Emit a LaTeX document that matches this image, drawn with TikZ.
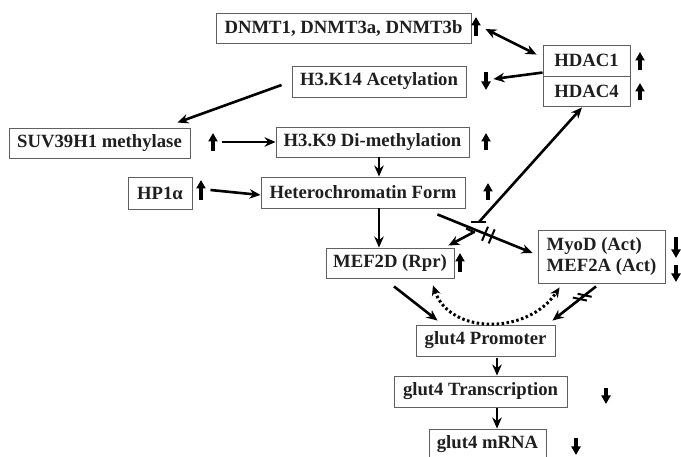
\documentclass[tikz,border=0pt]{standalone}
\usepackage{fontspec}
\setmainfont{Liberation Serif}
\usetikzlibrary{arrows.meta}
\begin{document}
\begin{tikzpicture}[x=1pt,y=-1pt,
  box/.style={draw=gray!75!black, line width=0.9pt, inner sep=0pt, font=\fontsize{18.7}{21}\selectfont\bfseries, text=black!88},
  conn/.style={line width=2.6pt, -{Stealth[length=11pt,width=9.5pt]}},
  dconn/.style={line width=2.6pt, {Stealth[length=11pt,width=9.5pt]}-{Stealth[length=11pt,width=9.5pt]}},
  dotconn/.style={line width=3pt, dash pattern=on 2.5pt off 2.5pt, {Stealth[length=10pt,width=9pt]}-{Stealth[length=10pt,width=9pt]}},
  slash/.style={line width=2pt},
  ind/.style={line width=3.2pt, -{Triangle[length=8.5pt,width=9pt]}}]
\useasboundingbox (0,0) rectangle (681,457);
\fill[white] (0,0) rectangle (681,457);
\clip (0,0) rectangle (681,457);

% boxes
\node[box, minimum width=255pt, minimum height=30pt] (dnmt) at (343.5,28) {DNMT1, DNMT3a, DNMT3b};
\node[box, minimum width=87pt, minimum height=31pt] (hdac1) at (586.5,60.5) {HDAC1};
\node[box, minimum width=87pt, minimum height=30pt] (hdac4) at (586.5,91) {HDAC4};
\node[box, minimum width=174pt, minimum height=31pt] (k14) at (379,81.5) {H3.K14 Acetylation};
\node[box, minimum width=181pt, minimum height=30pt] (suv) at (99.5,143) {SUV39H1 methylase};
\node[box, minimum width=193pt, minimum height=30pt] (k9) at (372.5,142) {H3.K9 Di-methylation};
\node[box, minimum width=64pt, minimum height=32pt] (hp1) at (160,193) {HP1α};
\node[box, minimum width=204pt, minimum height=31pt] (het) at (363,192.5) {Heterochromatin Form};
\node[box, minimum width=128pt, minimum height=30pt] (mef2d) at (390,263) {MEF2D (Rpr)};
\node[box, minimum width=127pt, minimum height=53pt, align=left] (myod) at (601.5,256.5) {MyoD (Act)\\MEF2A (Act)};
\node[box, minimum width=139pt, minimum height=31pt] (prom) at (485.5,340.5) {glut4 Promoter};
\node[box, minimum width=173pt, minimum height=31pt] (trans) at (480.5,391.5) {glut4 Transcription};
\node[box, minimum width=117pt, minimum height=31pt] (mrna) at (487.5,444.5) {glut4 mRNA};

% connectors
\draw[dconn] ([shift={(14,1)}]dnmt.east) -- ([shift={(-6,10)}]hdac1.north west);
\draw[conn] ([yshift=3]hdac4.north west) -- ([shift={(27,-2.5)}]k14.east);
\draw[conn] ([shift={(-10,3.5)}]k14.west) -- ([shift={(-13,-5)}]suv.north east);
\draw[conn] ([shift={(32,-1)}]suv.east) -- (k9.west);
\draw[conn] ([xshift=6.5]k9.south) -- ([xshift=16]het.north);
\draw[conn] ([shift={(18,-3)}]hp1.east) -- ([yshift=-2.5]het.west);
\draw[conn] ([xshift=16]het.south) -- ([xshift=-11]mef2d.north);
\draw[conn] ([shift={(-28,6)}]het.south east) -- ([shift={(-5,-3.5)}]myod.west)
  coordinate[pos=0.5] (hm1) coordinate[pos=0.57] (hm2);
\draw[slash] ([shift={(-3,7)}]hm1) -- ([shift={(3,-7)}]hm1);
\draw[slash] ([shift={(-3,7)}]hm2) -- ([shift={(3,-7)}]hm2);

\coordinate (tb) at (479,222);
\draw[conn] (tb) -- ([shift={(-4.5,1)}]hdac4.south);
\draw[slash] ([xshift=-8]tb) -- ([xshift=7]tb);
\coordinate (ms) at (474,232);
\draw[conn] (ms) -- ([shift={(-6,-2)}]mef2d.north east);
\draw[slash] ([shift={(-8,-3.5)}]ms) -- ([shift={(1,0.5)}]ms);

\draw[conn] ([shift={(-5.5,3)}]myod.south) -- ([shift={(-3,-4)}]prom.north east)
  coordinate[pos=0.26] (mp1) coordinate[pos=0.37] (mp2);
\draw[slash] ([shift={(-7,-1.5)}]mp1) -- ([shift={(7,1.5)}]mp1);
\draw[slash] ([shift={(-7,-1.5)}]mp2) -- ([shift={(7,1.5)}]mp2);
\draw[conn] ([shift={(4,8)}]mef2d.south) -- ([shift={(22,-4)}]prom.north west);

\draw[dotconn] ([shift={(43,7)}]mef2d.south) .. controls (450,335) and (528,335) .. ([shift={(22,4)}]myod.south west);

\draw[conn] ([shift={(11.5,2)}]prom.south) -- ([xshift=16.5]trans.north);
\draw[conn] ([shift={(16.5,1)}]trans.south) -- ([xshift=9.5]mrna.north);

% level indicators
\draw[ind] (476,36) -- (476,17);
\draw[ind] (640,70) -- (640,52);
\draw[ind] (640,100) -- (640,83);
\draw[ind] (486,72) -- (486,90);
\draw[ind] (213,151) -- (213,133);
\draw[ind] (486,150) -- (486,133);
\draw[ind] (201,200) -- (201,180);
\draw[ind] (488,200) -- (488,183);
\draw[ind] (460,272) -- (460,253);
\draw[ind] (676,237) -- (676,258);
\draw[ind] (676,265) -- (676,282);
\draw[ind] (606,388) -- (606,404);
\draw[ind] (576,438) -- (576,455);
\end{tikzpicture}
\end{document}
